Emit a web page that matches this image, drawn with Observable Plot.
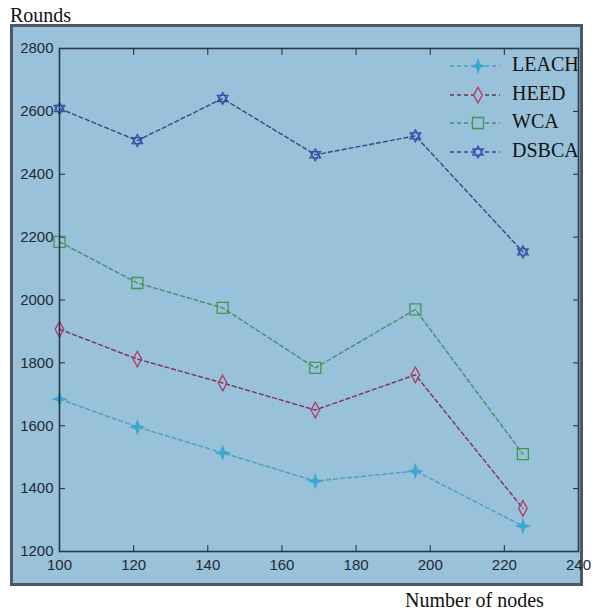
<!DOCTYPE html>
<html>
<head>
<meta charset="utf-8">
<script src="https://cdn.jsdelivr.net/npm/d3@7"></script>
<script src="https://cdn.jsdelivr.net/npm/@observablehq/plot@0.6"></script>
<style>
  html, body { margin: 0; padding: 0; background: #fff; }
  #wrap { position: relative; width: 593px; height: 611px; overflow: hidden; }
  #ytitle { position: absolute; left: 10px; top: 4px; font: 20px "Liberation Serif", "Times New Roman", serif; color: #111; }
  #xtitle { position: absolute; left: 405px; top: 589px; font: 20px "Liberation Serif", "Times New Roman", serif; color: #111; }
  #box { position: absolute; left: 10px; top: 24px; width: 567px; height: 556px; border: 3px solid #4b5964; background: #99c1da; overflow: visible; }
  #legend { position: absolute; left: 440px; top: 52px; }
  .row { position: relative; height: 28.5px; }
  .row svg { position: absolute; left: 0; top: 0; }
  .row span { position: absolute; left: 72px; top: 1px; font: 20px "Liberation Serif", "Times New Roman", serif; color: #111; }
</style>
</head>
<body>
<div id="wrap">
  <div id="ytitle">Rounds</div>
  <div id="box"></div>
  <div id="xtitle">Number of nodes</div>
</div>
<script>
const nodes = [100, 121, 144, 169, 196, 225];
const leach = [1685, 1596, 1514, 1424, 1456, 1281];
const heed  = [1907, 1812, 1736, 1650, 1762, 1337];
const wca   = [2185, 2054, 1975, 1784, 1970, 1510];
const dsbca = [2609, 2507, 2641, 2462, 2522, 2153];
const seriesNames = ["LEACH", "HEED", "WCA", "DSBCA"];
const xTicks = [100, 120, 140, 160, 180, 200, 220, 240];
const yTicks = [1200, 1400, 1600, 1800, 2000, 2200, 2400, 2600, 2800];

// custom marker shapes
const sparkle = { draw(ctx, size) {
  const r = Math.sqrt(size / Math.PI) * 1.25, w = r * 0.24;
  ctx.moveTo(0, -r); ctx.lineTo(w, -w); ctx.lineTo(r, 0); ctx.lineTo(w, w);
  ctx.lineTo(0, r); ctx.lineTo(-w, w); ctx.lineTo(-r, 0); ctx.lineTo(-w, -w); ctx.closePath();
}};
const tallDiamond = { draw(ctx, size) {
  const r = Math.sqrt(size / Math.PI) * 1.3;
  ctx.moveTo(0, -r); ctx.lineTo(r * 0.55, 0); ctx.lineTo(0, r); ctx.lineTo(-r * 0.55, 0); ctx.closePath();
}};
const squareM = { draw(ctx, size) {
  const r = Math.sqrt(size / Math.PI);
  ctx.rect(-r, -r, 2 * r, 2 * r);
}};
const hexagram = { draw(ctx, size) {
  const r = Math.sqrt(size / Math.PI) * 1.1;
  for (const off of [-Math.PI / 2, Math.PI / 2]) {
    for (let k = 0; k < 3; k++) {
      const a = off + k * 2 * Math.PI / 3;
      const px = r * Math.cos(a), py = r * Math.sin(a);
      if (k === 0) ctx.moveTo(px, py); else ctx.lineTo(px, py);
    }
    ctx.closePath();
  }
}};

const styles = {
  LEACH: {values: leach, line: "#4a9fc2", mark: "#3aa8d2", symbol: sparkle, filled: true, r: 5},
  HEED:  {values: heed,  line: "#7a3552", mark: "#b4395e", symbol: tallDiamond, filled: false, r: 6},
  WCA:   {values: wca,   line: "#4d8a6e", mark: "#3b9b4e", symbol: squareM, filled: false, r: 5.5},
  DSBCA: {values: dsbca, line: "#2e4a8c", mark: "#3452a8", symbol: hexagram, filled: false, r: 5.5}
};

const marks = [];
for (const name of seriesNames) {
  const s = styles[name];
  const data = nodes.map((n, i) => ({nodes: n, rounds: s.values[i]}));
  marks.push(Plot.line(data, {x: "nodes", y: "rounds", stroke: s.line, strokeWidth: 1.4, strokeDasharray: "4,3"}));
  marks.push(Plot.dot(data, {x: "nodes", y: "rounds", symbol: s.symbol, r: s.r,
    stroke: s.mark, strokeWidth: 1.3, fill: s.filled ? s.mark : "none"}));
}

const chart = Plot.plot({
  width: 567, height: 556,
  marginLeft: 46, marginRight: 2, marginTop: 21, marginBottom: 32,
  style: {background: "transparent", overflow: "visible", fontFamily: "'Liberation Sans', Arial, sans-serif", fontSize: "15px", color: "#1e2a33"},
  x: {domain: [100, 240], label: null, axis: null},
  y: {domain: [1200, 2800], label: null, axis: null},
  marks: [
    Plot.axisX({ticks: xTicks, anchor: "bottom", tickSize: 0, tickPadding: 8, fontSize: 15, label: null, tickFormat: d => String(d)}),
    Plot.axisX({ticks: xTicks, anchor: "bottom", tickSize: -6, tickFormat: () => "", label: null, stroke: "#1e2a33"}),
    Plot.axisX({ticks: xTicks, anchor: "top", tickSize: -6, tickFormat: () => "", label: null, stroke: "#1e2a33"}),
    Plot.axisY({ticks: yTicks, anchor: "left", tickSize: 0, tickPadding: 6, fontSize: 15, label: null, tickFormat: d => String(d)}),
    Plot.axisY({ticks: yTicks, anchor: "left", tickSize: -6, tickFormat: () => "", label: null, stroke: "#1e2a33"}),
    Plot.axisY({ticks: yTicks, anchor: "right", tickSize: -6, tickFormat: () => "", label: null, stroke: "#1e2a33"}),
    ...marks,
    Plot.frame({stroke: "#2a3842", strokeWidth: 1.6})
  ]
});
document.getElementById("box").appendChild(chart);

// legend
const legend = document.createElement("div");
legend.id = "legend";
for (const name of seriesNames) {
  const s = styles[name];
  const row = document.createElement("div");
  row.className = "row";
  const svg = d3.create("svg").attr("width", 64).attr("height", 28);
  svg.append("line").attr("x1", 10).attr("x2", 60).attr("y1", 14).attr("y2", 14)
    .attr("stroke", s.line).attr("stroke-width", 1.4).attr("stroke-dasharray", "4,3");
  svg.append("path").attr("transform", "translate(38,14)")
    .attr("d", d3.symbol(s.symbol, Math.PI * s.r * s.r)())
    .attr("stroke", s.mark).attr("stroke-width", 1.3).attr("fill", s.filled ? s.mark : "#99c1da");
  row.appendChild(svg.node());
  const t = document.createElement("span");
  t.textContent = name;
  row.appendChild(t);
  legend.appendChild(row);
}
document.getElementById("wrap").appendChild(legend);
</script>
</body>
</html>
